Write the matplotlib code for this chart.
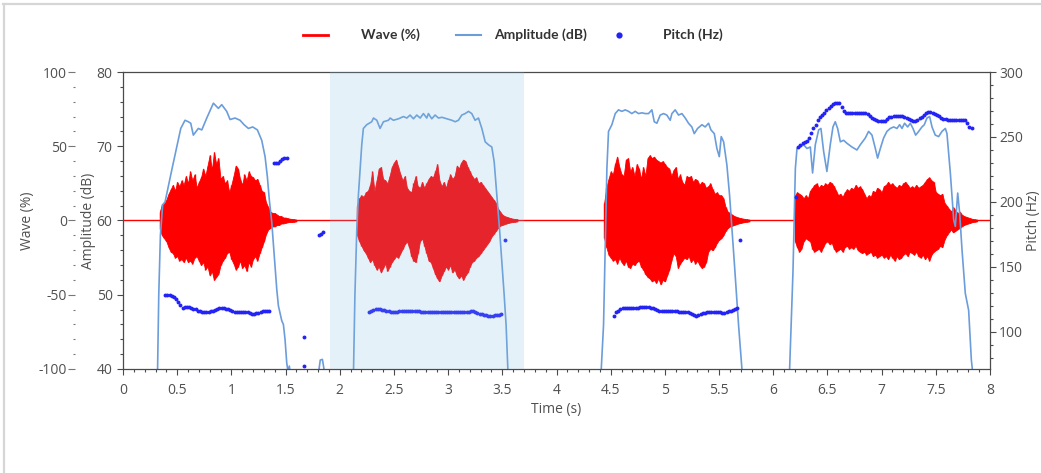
import matplotlib

matplotlib.use("Agg")
import matplotlib.pyplot as plt
import numpy as np
from matplotlib.lines import Line2D
from matplotlib.ticker import FuncFormatter, MultipleLocator

plt.rcParams["font.family"] = ["Open Sans", "DejaVu Sans"]
plt.rcParams["axes.unicode_minus"] = False

# one envelope sample every STEP seconds, starting at each segment's start time
STEP = 0.02

# --- wave (%) : upper / lower envelope of the waveform per voiced segment ---
wave1_start = 0.34
wave1_hi = [6, 11, 12, 14, 18, 21, 24, 20, 26, 23,
            27, 24, 30, 25, 33, 27, 31, 22, 26, 29,
            35, 30, 37, 44, 34, 46, 38, 42, 28, 30,
            25, 27, 19, 24, 30, 37, 35, 28, 24, 31,
            27, 33, 30, 29, 27, 28, 24, 20, 19, 12,
            9, 6, 5, 5, 4, 3, 3, 2, 2, 1.5,
            1.2, 1, 0.8, 0.6]
wave1_lo = [-6, -10, -12, -14, -18, -21, -22, -25, -24, -27,
            -26, -28, -25, -28, -27, -29, -25, -24, -27, -30,
            -28, -33, -31, -37, -34, -40, -38, -36, -30, -27,
            -25, -22, -21, -26, -29, -33, -31, -27, -32, -30,
            -34, -28, -31, -26, -24, -27, -22, -18, -14, -9,
            -6, -5, -4, -4, -3, -3, -2, -2, -1.5, -1.2,
            -1, -1, -0.8, -0.6]

wave2_start = 2.16
wave2_hi = [10, 15, 17, 16, 19, 20, 24, 33, 20, 27,
            35, 36, 28, 27, 25, 30, 36, 39, 41, 36,
            31, 27, 30, 22, 20, 19, 25, 30, 23, 22,
            26, 22, 25, 28, 30, 29, 33, 38, 27, 23,
            26, 22, 27, 31, 28, 30, 37, 35, 39, 41,
            40, 36, 33, 30, 28, 29, 25, 26, 24, 22,
            20, 18, 16, 14, 12, 8, 6, 4, 3, 2.5,
            2, 1.5, 1.2, 1, 0.8]
wave2_lo = [-10, -14, -17, -20, -22, -25, -28, -26, -30, -33,
            -31, -35, -32, -29, -34, -31, -28, -26, -24, -25,
            -22, -19, -16, -14, -18, -24, -27, -28, -22, -14,
            -12, -17, -22, -27, -28, -32, -36, -39, -41, -37,
            -34, -31, -33, -30, -35, -33, -37, -39, -37, -40,
            -37, -35, -31, -28, -27, -25, -24, -22, -20, -18,
            -16, -14, -11, -9, -7, -5, -3.5, -3, -2.5, -2,
            -1.5, -1.2, -1, -0.8, -0.6]

wave3_start = 4.44
wave3_hi = [12, 22, 28, 33, 31, 38, 43, 36, 31, 30,
            41, 42, 33, 36, 30, 38, 35, 28, 36, 30,
            42, 44, 42, 43, 41, 40, 39, 40, 38, 36,
            35, 30, 34, 36, 28, 31, 26, 24, 30, 29,
            30, 26, 28, 27, 24, 26, 25, 22, 23, 25,
            21, 18, 19, 17, 17, 15, 9, 6, 5, 4,
            3, 2.5, 2, 1.6, 1.3, 1, 0.8, 0.6]
wave3_lo = [-12, -18, -23, -25, -27, -26, -29, -25, -28, -30,
            -27, -31, -32, -29, -30, -28, -27, -31, -33, -36,
            -38, -39, -41, -40, -42, -39, -43, -40, -41, -37,
            -33, -27, -22, -24, -32, -29, -27, -25, -26, -24,
            -28, -26, -29, -27, -30, -32, -31, -28, -21, -19,
            -20, -18, -15, -13, -12, -10, -7, -5, -4, -3.5,
            -3, -2.5, -2, -1.6, -1.3, -1, -0.8, -0.6]

wave4_start = 6.20
wave4_hi = [17, 19, 18, 17, 15, 17, 15, 20, 22, 24,
            25, 22, 24, 23, 25, 24, 26, 25, 23, 20,
            17, 18, 16, 19, 21, 20, 22, 21, 24, 22,
            23, 21, 18, 15, 17, 16, 20, 19, 22, 21,
            19, 23, 24, 26, 24, 25, 23, 22, 24, 23,
            25, 26, 24, 22, 23, 22, 24, 22, 23, 24,
            26, 28, 29, 27, 26, 19, 18, 17, 18, 12,
            10, 8, 6, 9, 7, 5, 6, 4, 3, 2.5,
            2, 1.5, 1, 0.8, 0.6]
wave4_lo = [-14, -18, -21, -19, -14, -12, -13, -14, -19, -21,
            -20, -19, -21, -18, -15, -14, -16, -15, -19, -21,
            -20, -19, -21, -18, -17, -19, -18, -19, -17, -20,
            -21, -22, -21, -23, -22, -21, -24, -23, -25, -24,
            -23, -25, -24, -26, -23, -25, -27, -24, -26, -25,
            -23, -22, -24, -21, -22, -23, -21, -24, -25, -23,
            -26, -24, -27, -23, -21, -20, -19, -17, -18, -13,
            -10, -8, -6, -8, -7, -6, -5, -4, -3, -2.5,
            -2, -1.5, -1, -0.8, -0.6]

silence_t = [0, 8]
silence_wave = [0, 0]

# --- amplitude (dB) ---
amp_t = [0.30, 0.318, 0.33, 0.345, 0.366, 0.388, 0.418, 0.450, 0.496, 0.533,
         0.572, 0.603, 0.625, 0.649, 0.674, 0.695, 0.727, 0.773, 0.834, 0.880,
         0.911, 0.957, 0.988, 1.034, 1.080, 1.117, 1.157, 1.197, 1.240, 1.280,
         1.311, 1.332, 1.350, 1.373, 1.403, 1.419, 1.434, 1.465, 1.480, 1.495,
         1.511, 1.523, 1.535, 1.55, 1.60, 1.75, 1.80, 1.82, 1.84, 1.86,
         1.90, 2.10, 2.126, 2.14, 2.157, 2.172, 2.203, 2.218, 2.249, 2.295,
         2.311, 2.342, 2.372, 2.403, 2.449, 2.465, 2.495, 2.542, 2.588, 2.619,
         2.649, 2.680, 2.711, 2.742, 2.772, 2.803, 2.818, 2.849, 2.880, 2.911,
         2.942, 2.988, 3.034, 3.065, 3.095, 3.126, 3.157, 3.188, 3.218, 3.249,
         3.280, 3.311, 3.342, 3.372, 3.403, 3.425, 3.449, 3.474, 3.495, 3.517,
         3.535, 3.551, 3.57, 4.40, 4.413, 4.434, 4.465, 4.480, 4.511, 4.542,
         4.572, 4.603, 4.634, 4.665, 4.695, 4.726, 4.757, 4.788, 4.819, 4.849,
         4.880, 4.902, 4.926, 4.957, 4.988, 5.018, 5.049, 5.065, 5.095, 5.126,
         5.157, 5.188, 5.218, 5.249, 5.271, 5.302, 5.342, 5.372, 5.403, 5.425,
         5.456, 5.480, 5.502, 5.520, 5.542, 5.572, 5.597, 5.619, 5.640, 5.665,
         5.680, 5.711, 5.73, 6.13, 6.151, 6.182, 6.204, 6.219, 6.250, 6.280,
         6.311, 6.342, 6.363, 6.388, 6.419, 6.440, 6.465, 6.495, 6.526, 6.551,
         6.572, 6.594, 6.619, 6.649, 6.680, 6.726, 6.772, 6.803, 6.849, 6.880,
         6.911, 6.942, 6.963, 6.988, 7.018, 7.049, 7.080, 7.111, 7.142, 7.166,
         7.188, 7.212, 7.240, 7.265, 7.289, 7.314, 7.342, 7.372, 7.394, 7.418,
         7.443, 7.465, 7.495, 7.526, 7.557, 7.588, 7.603, 7.634, 7.665, 7.680,
         7.702, 7.720, 7.742, 7.772, 7.803, 7.828, 7.837, 7.85]
amp_db = [34, 39, 50, 58, 62.1, 62.5, 64.6, 66.8, 69.9, 72.4,
          73.5, 73.3, 73.1, 71.5, 72.0, 72.4, 72.2, 73.8, 75.8, 75.1,
          75.6, 74.7, 73.6, 73.8, 73.5, 72.9, 72.4, 72.6, 72.2, 70.8,
          68.6, 65.9, 62.8, 59.7, 53.8, 50.7, 48.5, 46.5, 46.0, 44.0,
          40.8, 39.6, 40.4, 38.5, 36, 35, 39.0, 41.2, 41.3, 39.5,
          36, 35, 39, 50, 58.7, 63.4, 70.2, 72.4, 72.9, 73.3,
          73.8, 73.5, 72.4, 73.3, 73.5, 73.8, 73.5, 73.7, 74.0, 73.8,
          74.2, 73.7, 74.2, 73.8, 74.4, 73.8, 74.4, 73.7, 74.2, 73.8,
          73.9, 73.7, 73.5, 73.3, 73.5, 74.2, 74.4, 74.7, 74.4, 73.5,
          73.8, 72.4, 70.6, 70.2, 69.9, 67.9, 63.4, 58.9, 54.5, 50.0,
          45.9, 40.0, 36, 35, 40, 45.9, 67.0, 72.0, 72.9, 74.4,
          74.9, 74.7, 74.9, 74.7, 74.4, 74.7, 74.4, 74.5, 74.4, 74.4,
          74.9, 73.3, 73.1, 74.2, 74.4, 74.2, 73.5, 74.4, 74.9, 74.2,
          74.4, 73.8, 73.1, 72.6, 71.7, 72.4, 72.9, 72.6, 73.1, 72.2,
          71.7, 69.7, 68.6, 71.3, 70.6, 67.5, 63.4, 58.9, 54.5, 49.1,
          45.9, 40.0, 36, 35, 40, 53.1, 67.0, 69.7, 69.9, 70.2,
          69.7, 69.9, 66.4, 70.2, 72.2, 72.4, 69.3, 66.6, 70.2, 72.6,
          73.3, 72.4, 70.6, 70.8, 70.4, 69.9, 69.5, 70.2, 71.1, 72.0,
          71.5, 69.7, 68.4, 69.7, 71.1, 72.0, 72.4, 72.6, 72.4, 72.9,
          72.4, 73.1, 72.6, 73.1, 72.4, 71.5, 72.0, 72.6, 72.9, 73.8,
          74.0, 72.6, 71.5, 71.3, 72.0, 72.4, 71.7, 66.4, 60.1, 59.2,
          63.7, 61.0, 56.0, 50.2, 47.9, 41.2, 40, 36]

# --- pitch (Hz): voiced runs sampled every STEP seconds, plus stray points ---
pitch1_start = 0.39
pitch1_hz = [128.5, 128.5, 128.5, 128.0, 126.8, 125.0, 122.8, 120.5, 118.5, 119.3,
             119.3, 119.0, 118.6, 118.0, 117.3, 116.5, 115.8, 115.6, 115.6, 115.6,
             115.6, 115.8, 116.4, 117.0, 117.8, 118.2, 118.2, 118.2, 117.8, 117.4,
             116.6, 115.8, 115.6, 115.6, 115.6, 115.6, 115.4, 115.1, 115.0, 114.4,
             113.8, 113.8, 114.3, 114.8, 115.4, 115.8, 116.2, 116.2, 116.2]
pitch2_start = 2.27
pitch2_hz = [115.1, 116.0, 116.9, 117.5, 117.7, 117.5, 117.0, 116.6, 116.2, 115.8,
             115.6, 115.3, 115.1, 115.6, 116.2, 116.2, 116.2, 116.2, 116.2, 116.2,
             116.2, 116.2, 116.2, 116.2, 115.6, 115.1, 115.1, 115.1, 115.1, 115.1,
             115.1, 115.1, 115.1, 115.1, 115.1, 115.1, 115.1, 115.1, 115.1, 115.1,
             115.1, 115.1, 115.1, 115.1, 115.1, 115.1, 115.6, 116.2, 116.0, 115.3,
             114.3, 114.0, 113.6, 113.3, 112.8, 112.5, 112.5, 112.5, 112.8, 113.0,
             113.3, 113.6]
pitch3_start = 4.53
pitch3_hz = [112.5, 115.0, 116.5, 117.7, 118.2, 118.2, 118.2, 118.2, 118.2, 118.2,
             118.2, 118.2, 119.0, 119.0, 119.0, 119.0, 119.0, 118.6, 118.2, 117.6,
             116.9, 116.5, 116.2, 116.2, 116.2, 116.2, 116.2, 116.2, 116.2, 116.2,
             115.6, 115.1, 115.1, 115.1, 115.1, 114.3, 113.6, 112.8, 112.5, 113.0,
             113.6, 114.3, 114.7, 115.1, 115.1, 115.1, 115.1, 115.1, 115.1, 115.1,
             114.5, 114.3, 115.1, 115.8, 116.4, 116.9, 117.4, 118.2]
pitch4_start = 6.23
pitch4_hz = [242.5, 244.0, 245.0, 245.8, 247.0, 249.5, 253.0, 257.0, 259.5, 263.0,
             265.0, 266.9, 268.5, 270.5, 272.5, 274.0, 275.5, 275.9, 275.9, 275.9,
             273.0, 270.0, 268.2, 268.2, 268.2, 268.2, 268.2, 268.2, 268.2, 268.2,
             268.2, 268.2, 267.5, 266.0, 264.9, 263.5, 263.0, 262.3, 262.3, 262.3,
             262.3, 263.5, 265.0, 265.6, 266.4, 266.4, 266.4, 266.4, 266.4, 265.2,
             264.4, 263.5, 263.0, 262.5, 262.3, 263.3, 264.4, 265.6, 267.0, 268.5,
             269.0, 269.0, 268.5, 268.0, 267.0, 266.0, 264.9, 264.0, 263.5, 263.1,
             263.1, 263.1, 263.1, 263.1, 263.1, 263.1, 263.1, 263.1, 260.5, 258.0,
             256.7]
pitch_stray_t = [1.39, 1.41, 1.43, 1.45, 1.47, 1.49, 1.51, 1.671, 1.671,
                 1.81, 1.83, 1.85, 3.526, 5.69, 6.213]
pitch_stray_hz = [230.0, 230.0, 230.3, 231.5, 233.3, 233.6, 233.8, 96.4, 73.5,
                  174.6, 175.4, 177.2, 170.5, 171.0, 204.1]

selection = (1.91, 3.70)

RED = "#ff0000"
AMP_BLUE = "#6b9ddb"
PITCH_BLUE = "#2323f5"
SPINE = "#4a4a4a"
TICK_TEXT = "#505050"

W, H = 1041, 473
fig = plt.figure(figsize=(W / 100, H / 100), dpi=100)
ax_amp = fig.add_axes([123 / W, 1 - 369 / H, 867 / W, 297 / H])
ax_wave = ax_amp.twinx()
ax_pitch = ax_amp.twinx()

ax_wave.set_zorder(1)
ax_amp.set_zorder(2)
ax_pitch.set_zorder(3)
ax_wave.patch.set_visible(True)
ax_wave.patch.set_facecolor("white")
ax_amp.patch.set_visible(False)
ax_pitch.patch.set_visible(False)

# waveform: solid body between the envelopes, with a spike at every sample
ax_wave.plot(silence_t, silence_wave, color=RED, lw=1.0)
for start, hi, lo in [(wave1_start, wave1_hi, wave1_lo), (wave2_start, wave2_hi, wave2_lo),
                      (wave3_start, wave3_hi, wave3_lo), (wave4_start, wave4_hi, wave4_lo)]:
    t = start + STEP * np.arange(len(hi))
    ax_wave.fill_between(t, lo, hi, color=RED, lw=0.6)
    ax_wave.vlines(t, lo, hi, color=RED, lw=1.0)

ax_amp.plot(amp_t, amp_db, color=AMP_BLUE, lw=1.2)

for start, vals in [(pitch1_start, pitch1_hz), (pitch2_start, pitch2_hz),
                    (pitch3_start, pitch3_hz), (pitch4_start, pitch4_hz)]:
    t = start + STEP * np.arange(len(vals))
    ax_pitch.plot(t, vals, ls="none", marker="o", ms=2.8, mew=0, color=PITCH_BLUE)
ax_pitch.plot(pitch_stray_t, pitch_stray_hz, ls="none", marker="o", ms=2.8, mew=0,
              color=PITCH_BLUE)

ax_pitch.axvspan(*selection, color="#7fbddc", alpha=0.2, lw=0, zorder=10)

# limits / ticks
ax_amp.set_xlim(0, 8)
ax_amp.set_ylim(40, 80)
ax_wave.set_ylim(-100, 100)
ax_pitch.set_ylim(71.5, 300)

ax_amp.xaxis.set_major_locator(MultipleLocator(0.5))
ax_amp.xaxis.set_minor_locator(MultipleLocator(0.1))
ax_amp.xaxis.set_major_formatter(FuncFormatter(lambda v, _: f"{v:g}"))
ax_amp.yaxis.set_major_locator(MultipleLocator(10))
ax_amp.yaxis.set_minor_locator(MultipleLocator(2))
ax_wave.yaxis.set_major_locator(MultipleLocator(50))
ax_wave.yaxis.set_minor_locator(MultipleLocator(10))
ax_pitch.yaxis.set_major_locator(MultipleLocator(50))
ax_pitch.yaxis.set_minor_locator(MultipleLocator(10))

ax_wave.yaxis.set_ticks_position("left")
ax_wave.yaxis.set_label_position("left")
ax_wave.spines["left"].set_position(("outward", 48 * 0.72))
for side in ["left", "right", "top", "bottom"]:
    ax_wave.spines[side].set_visible(False)
ax_amp.spines["right"].set_visible(False)
for side in ["left", "top", "bottom"]:
    ax_pitch.spines[side].set_visible(False)
for spine in [ax_amp.spines["left"], ax_amp.spines["top"], ax_amp.spines["bottom"],
              ax_pitch.spines["right"]]:
    spine.set_color(SPINE)
    spine.set_linewidth(0.9)

for ax in [ax_amp, ax_pitch]:
    ax.tick_params(which="major", length=4, width=0.8, color=SPINE,
                   labelcolor=TICK_TEXT, labelsize=10)
    ax.tick_params(which="minor", length=2.2, width=0.8, color=SPINE)
ax_amp.tick_params(axis="x", which="major", pad=6)
ax_pitch.tick_params(axis="y", pad=2.5)
ax_wave.tick_params(which="major", length=4.8, width=0.8, color="#777777",
                    labelcolor=TICK_TEXT, labelsize=10, pad=1)
ax_wave.tick_params(which="minor", length=1.4, width=0.8, color="#777777")

ax_amp.set_xlabel("Time (s)", color=TICK_TEXT, fontsize=10)
ax_amp.xaxis.set_label_coords(0.5, -0.110)
ax_amp.set_ylabel("Amplitude (dB)", color=TICK_TEXT, fontsize=10)
ax_amp.yaxis.set_label_coords((96 - 123) / 867, 0.5)
ax_wave.set_ylabel("Wave (%)", color=TICK_TEXT, fontsize=10)
ax_wave.yaxis.set_label_coords((35 - 123) / 867, 0.5)
ax_pitch.set_ylabel("Pitch (Hz)", color=TICK_TEXT, fontsize=10)
ax_pitch.yaxis.set_label_coords((1026 - 123) / 867, 0.5)

# legend drawn by hand to keep the original spacing
ly = 1 - 35 / H
legend_font = dict(family=["Lato", "DejaVu Sans"], fontweight="bold", fontsize=10,
                   color="#333333", va="center", ha="left")
fig.add_artist(Line2D([303 / W, 328 / W], [ly, ly], color=RED, lw=2))
fig.text(361 / W, ly, "Wave (%)", **legend_font)
fig.add_artist(Line2D([456 / W, 481 / W], [ly, ly], color=AMP_BLUE, lw=1.5))
fig.text(494 / W, ly, "Amplitude (dB)", **legend_font)
fig.add_artist(Line2D([619 / W], [ly], ls="none", marker="o", ms=4.5, mew=0, color=PITCH_BLUE))
fig.text(663 / W, ly, "Pitch (Hz)", **legend_font)

# panel frame
fig.add_artist(Line2D([3 / W, 1], [1 - 4 / H, 1 - 4 / H], color="#d6d6d6", lw=1.6))
fig.add_artist(Line2D([4 / W, 4 / W], [0, 1 - 4 / H], color="#d6d6d6", lw=1.6))

fig.savefig("out.png", dpi=100)
